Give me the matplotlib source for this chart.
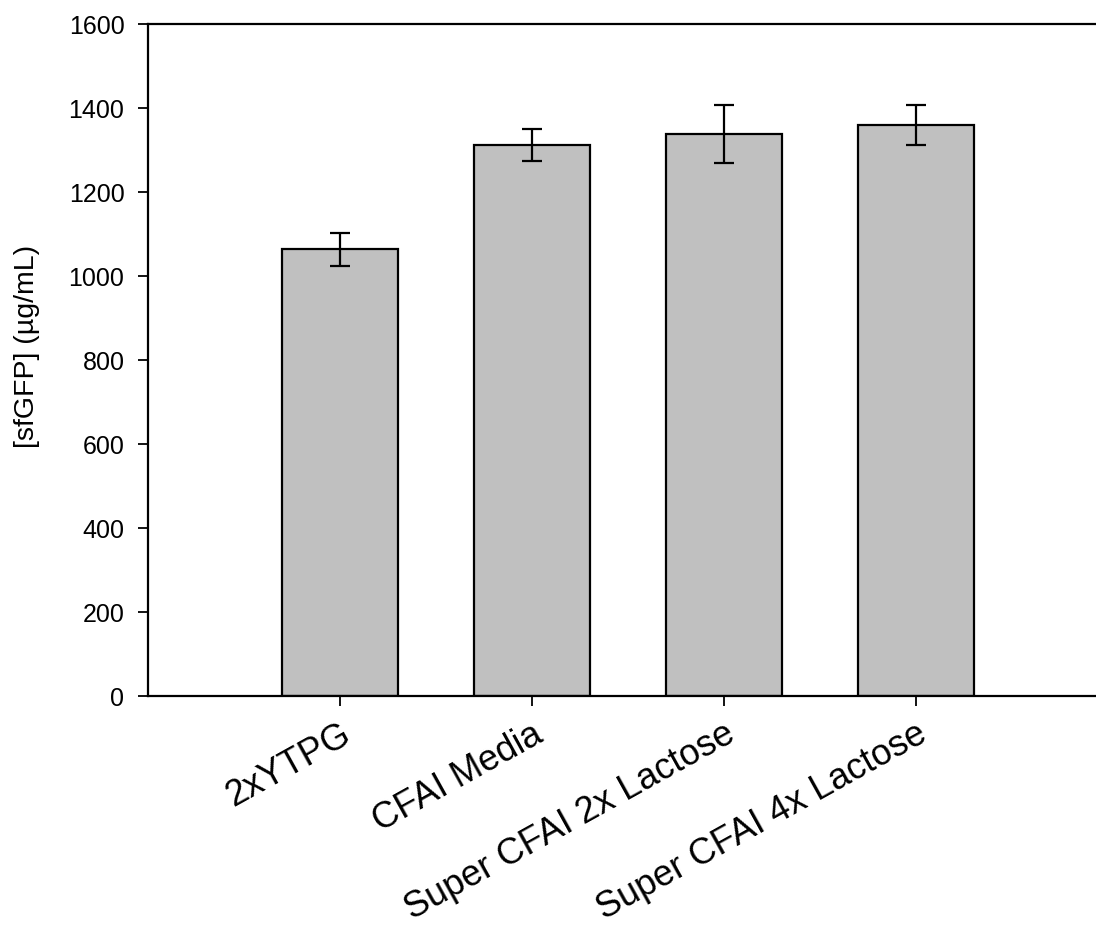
import matplotlib
matplotlib.use("Agg")
import matplotlib.pyplot as plt
import numpy as np

plt.rcParams["font.family"] = ["Liberation Sans", "DejaVu Sans"]

categories = ["2xYTPG", "CFAI Media", "Super CFAI 2x Lactose", "Super CFAI 4x Lactose"]
sfgfp = [1064, 1313, 1338, 1360]
sfgfp_err = [40, 39, 69, 47]
y_ticks = [0, 200, 400, 600, 800, 1000, 1200, 1400, 1600]

fig = plt.figure(figsize=(10.96, 9.30), dpi=100)
# right edge of the frame sits just past the picture, as in the original
ax = fig.add_axes([148 / 1096, 234 / 930, 960 / 1096, 671.5 / 930])

x = np.arange(len(categories))
ax.bar(x, sfgfp, width=0.6, color="#c0c0c0", edgecolor="black", linewidth=1.6, zorder=2)
ax.errorbar(x, sfgfp, yerr=sfgfp_err, fmt="none", ecolor="black",
            elinewidth=1.6, capsize=7.5, capthick=1.6, zorder=3)

ax.set_xlim(-1, 4)
ax.set_ylim(0, 1600)
ax.set_yticks(y_ticks)
ax.set_xticks(x)
ax.set_xticklabels(categories, rotation=29, ha="right", va="top",
                   rotation_mode="anchor", fontsize=26)
ax.tick_params(axis="y", labelsize=18, direction="out", length=7, width=1.3, pad=10)
ax.tick_params(axis="x", direction="out", length=7, width=1.3, pad=8)

for side in ["left", "bottom", "top", "right"]:
    ax.spines[side].set_linewidth(1.6)

ax.set_ylabel("[sfGFP] (µg/mL)", fontsize=20.5)
ax.yaxis.set_label_coords(-0.112, 0.52)

fig.savefig("out.png", dpi=100)
